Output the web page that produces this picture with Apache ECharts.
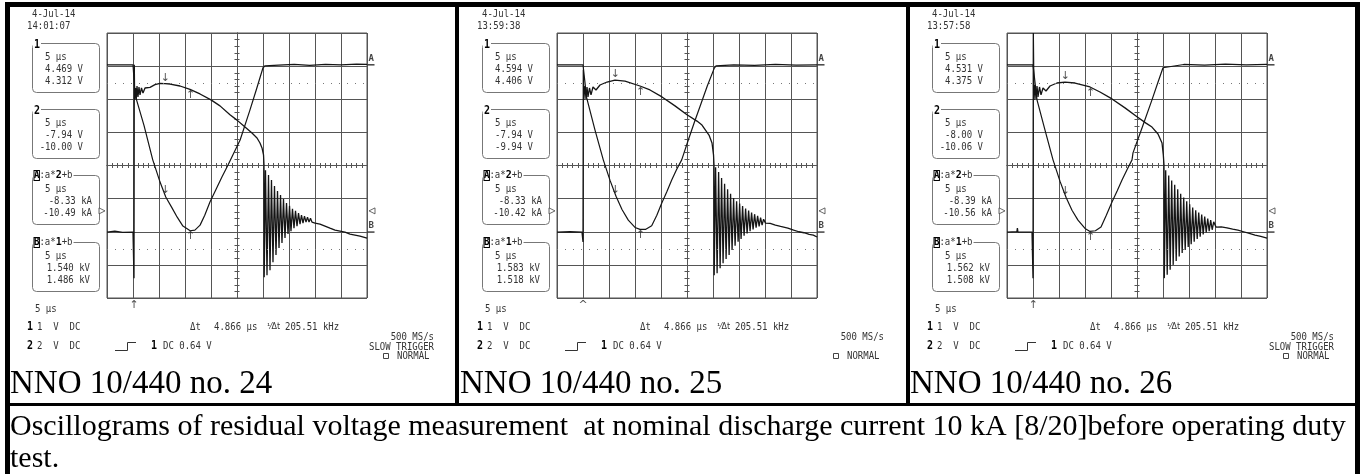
<!DOCTYPE html>
<html><head><meta charset="utf-8">
<script src="https://cdn.jsdelivr.net/npm/echarts@6/dist/echarts.min.js"></script>
<style>html,body{margin:0;padding:0;background:#fff}#c{width:1362px;height:474px}</style>
</head><body><div id="c"></div>
<script>
// ---------------- data ----------------
const PANEL_TITLES = ['NNO 10/440 no. 24', 'NNO 10/440 no. 25', 'NNO 10/440 no. 26'];
const CAPTION_LINES = ['Oscillograms of residual voltage measurement  at nominal discharge current 10 kA [8/20]before operating duty', 'test.'];
const DATES = ['4-Jul-14', '4-Jul-14', '4-Jul-14'];
const CLOCKS = ['14:01:07', '13:59:38', '13:57:58'];
const CH1_CURSOR = [['4.469 V', '4.312 V'], ['4.594 V', '4.406 V'], ['4.531 V', '4.375 V']];
const CH2_CURSOR = [['-7.94 V', '-10.00 V'], ['-7.94 V', '-9.94 V'], ['-8.00 V', '-10.06 V']];
const MATH_A_CURSOR = [['-8.33 kA', '-10.49 kA'], ['-8.33 kA', '-10.42 kA'], ['-8.39 kA', '-10.56 kA']];
const MATH_B_CURSOR = [['1.540 kV', '1.486 kV'], ['1.583 kV', '1.518 kV'], ['1.562 kV', '1.508 kV']];
const TIMEBASE = '5 µs';
const DELTA_T = '4.866 µs';
const INV_DELTA_T = '205.51 kHz';
const SAMPLE_RATE = '500 MS/s';
const SLOW_TRIGGER = [true, false, true];
const TRIG_ARROW = ['↑', '^', '↑'];
// time in µs (5 µs/div), vertical in divisions (-4..4)
const CURSOR_T = [11.2, 16.066];
const H_CURSOR = [2.49, -2.52];
const GROUND_A = 3.04, GROUND_B = -2.01, TRIG_LEVEL = -1.37;
const TRIGGER_T = [5.19, 5.0, 5.06];
const V_AT_CURSOR = [[2.47, 2.30], [2.58, 2.40], [2.52, 2.37]];
const I_AT_CURSOR = [[-0.93, -1.96], [-0.93, -1.93], [-0.96, -1.99]];

const current24 = [[0,3.04],[5.0,3.04],[5.2,3.01],[5.4,2.13],[7.1,1.22],[8.8,0.17],[10.2,-0.50],[11.3,-0.95],[12.5,-1.28],[13.5,-1.56],[14.6,-1.83],[16.0,-1.97],[16.9,-1.95],[17.9,-1.80],[18.8,-1.50],[19.8,-1.10],[21.0,-0.71],[22.1,-0.35],[23.3,0.02],[24.2,0.32],[25.6,0.77],[27.5,1.68],[28.7,2.28],[30.0,2.95],[30.4,3.01],[33,3.03],[36,3.05],[39,3.02],[42,3.05],[45,3.04],[48,3.06],[50,3.05]];
const voltage24 = [[0,-2.01],[1.5,-1.98],[3,-2.02],[5.0,-2.01],[5.19,-3.40],[5.25,3.04],[5.31,1.98],[5.48,2.34],[5.63,2.01],[5.77,2.40],[5.96,2.07],[6.15,2.37],[6.35,2.13],[6.63,2.34],[6.92,2.19],[7.31,2.34],[7.69,2.28],[8.27,2.36],[9.23,2.44],[10.19,2.48],[11.15,2.47],[12.12,2.46],[14.04,2.40],[15.96,2.30],[17.88,2.16],[20.0,1.98],[21.73,1.80],[23.65,1.53],[25.0,1.37],[26.54,1.16],[27.88,0.98],[28.85,0.83],[29.42,0.68],[29.81,0.53],[30.1,0.32],[30.19,0.02],
  [30.23,-3.37],[30.48,-0.14],[30.77,-3.31],[31.06,-0.29],[31.35,-3.16],[31.63,-0.44],[31.92,-2.92],[32.21,-0.62],[32.5,-2.7],[32.79,-0.77],[33.08,-2.49],[33.37,-0.89],[33.65,-2.34],[33.94,-1.01],[34.23,-2.19],[34.52,-1.13],[34.81,-2.07],[35.1,-1.22],[35.38,-1.98],[35.67,-1.31],[35.96,-1.89],[36.25,-1.37],[36.54,-1.83],[36.83,-1.44],[37.12,-1.77],[37.4,-1.5],[37.69,-1.74],[37.98,-1.53],[38.27,-1.71],[38.56,-1.56],[38.85,-1.71],[39.13,-1.59],[39.42,-1.71],[40.0,-1.74],[40.96,-1.77],[41.92,-1.83],[42.88,-1.89],[43.85,-1.95],[44.81,-1.98],[45.77,-2.01],[46.73,-2.07],[47.69,-2.1],[48.65,-2.13],[50,-2.19]];

const current25 = [[0,3.04],[5.0,3.04],[5.19,2.98],[5.71,2.04],[7.31,1.07],[8.9,0.17],[10.2,-0.45],[11.35,-0.93],[12.5,-1.33],[13.71,-1.65],[15.0,-1.87],[15.96,-1.93],[17.0,-1.93],[18.21,-1.82],[19.2,-1.5],[20.13,-1.14],[21.1,-0.8],[22.06,-0.44],[23.0,-0.12],[23.98,0.17],[25.25,0.77],[26.4,1.3],[27.5,1.78],[28.9,2.4],[30.25,2.94],[30.58,3.01],[34,3.04],[38,3.02],[42,3.05],[46,3.03],[50,3.04]];
const voltage25 = [[0,-2.01],[2.5,-2.0],[4.81,-2.01],[5.0,-2.31],[5.06,2.89],[5.15,1.98],[5.38,2.40],[5.58,2.01],[5.77,2.37],[5.96,2.07],[6.25,2.34],[6.54,2.13],[6.92,2.37],[7.5,2.28],[8.27,2.43],[9.62,2.52],[11.15,2.58],[13.08,2.55],[15.96,2.40],[17.88,2.28],[20.19,2.07],[22.69,1.80],[25.0,1.53],[26.92,1.34],[27.88,1.22],[29.23,0.92],[29.81,0.68],[30.1,0.32],[30.19,0.02],
  [30.23,-3.31],[30.5,-0.05],[30.79,-3.25],[31.08,-0.2],[31.37,-3.1],[31.65,-0.38],[31.94,-2.95],[32.23,-0.55],[32.52,-2.82],[32.81,-0.72],[33.1,-2.7],[33.38,-0.85],[33.67,-2.55],[33.96,-0.98],[34.25,-2.42],[34.54,-1.08],[34.83,-2.3],[35.12,-1.15],[35.4,-2.22],[35.69,-1.22],[35.98,-2.12],[36.27,-1.3],[36.56,-2.05],[36.85,-1.36],[37.13,-1.98],[37.42,-1.42],[37.71,-1.93],[38.0,-1.47],[38.29,-1.88],[38.58,-1.52],[38.87,-1.84],[39.15,-1.57],[39.44,-1.8],[39.73,-1.62],[40.1,-1.74],[41.0,-1.75],[42.0,-1.8],[43.0,-1.84],[44.4,-1.89],[45.5,-1.95],[46.5,-2.0],[47.5,-2.03],[48.5,-2.08],[49.3,-2.1],[50,-2.16]];

const current26 = [[0,3.04],[5.0,3.04],[5.19,2.98],[5.77,1.98],[7.31,1.07],[8.85,0.17],[10.2,-0.48],[11.35,-0.96],[12.5,-1.35],[13.65,-1.65],[15.0,-1.9],[15.96,-1.99],[17.0,-1.97],[18.08,-1.86],[19.1,-1.5],[20.19,-1.1],[21.2,-0.76],[22.12,-0.44],[23.1,-0.12],[24.04,0.17],[24.23,0.38],[25.96,1.13],[27.88,1.98],[29.0,2.5],[30.0,2.95],[30.38,3.01],[34,3.05],[38,3.03],[42,3.06],[46,3.04],[50,3.05]];
const voltage26 = [[0,-2.01],[1.9,-2.0],[2.0,-1.89],[2.1,-2.01],[4.81,-2.01],[5.0,-3.40],[5.06,4.0],[5.19,1.98],[5.38,2.43],[5.58,2.01],[5.77,2.40],[5.96,2.07],[6.25,2.37],[6.54,2.13],[6.92,2.34],[7.5,2.25],[8.27,2.40],[9.62,2.49],[11.15,2.52],[13.08,2.49],[15.96,2.37],[17.88,2.22],[20.19,2.01],[22.69,1.74],[25.0,1.47],[26.73,1.28],[27.88,1.16],[29.04,0.95],[29.81,0.68],[30.06,0.32],[30.19,0.02],
  [30.25,-3.4],[30.52,-0.14],[30.81,-3.3],[31.1,-0.3],[31.38,-3.15],[31.67,-0.45],[31.96,-3.0],[32.25,-0.58],[32.54,-2.88],[32.83,-0.72],[33.12,-2.75],[33.4,-0.85],[33.69,-2.64],[33.98,-0.97],[34.27,-2.55],[34.56,-1.08],[34.85,-2.46],[35.13,-1.17],[35.42,-2.38],[35.71,-1.27],[36.0,-2.3],[36.29,-1.35],[36.58,-2.22],[36.87,-1.42],[37.15,-2.15],[37.44,-1.48],[37.73,-2.08],[38.02,-1.54],[38.31,-2.02],[38.6,-1.6],[38.88,-1.98],[39.17,-1.65],[39.46,-1.94],[39.75,-1.7],[40.2,-1.86],[41.2,-1.85],[42.3,-1.88],[43.4,-1.92],[44.4,-1.95],[45.5,-2.0],[46.6,-2.05],[47.7,-2.1],[48.8,-2.14],[50,-2.19]];

const CURRENTS = [current24, current25, current26];
const VOLTAGES = [voltage24, voltage25, voltage26];

// ---------------- layout / style ----------------
const GX = [107, 557, 1007];
const GRID_TOP = 33, GRID_W = 260, GRID_H = 265;
const GRIDC = '#555';
const TRACE = '#151515';
const TXT = '#333';
const MONO = '"DejaVu Sans Mono", "Liberation Mono", monospace';
const SERIF = '"Liberation Serif", "Times New Roman", serif';

function txt(x, y, text, o) {
  o = o || {};
  const st = {text: text, font: (o.font || ('9px ' + MONO)), fill: o.fill || TXT,
    align: o.align || 'left', verticalAlign: o.va || 'middle'};
  if (o.bg) { st.backgroundColor = o.bg; st.padding = o.pad || [0, 1]; }
  if (o.rich) st.rich = o.rich;
  const el = {type: 'text', x: x, y: y, silent: true, z: 10, style: st};
  if (o.sy) el.scaleY = o.sy;
  return el;
}
function stxt(x, y, text, o) { o = o || {}; if (o.sy == null) o.sy = 1.18; return txt(x, y, text, o); }
function rect(x, y, w, h, style, r) {
  return {type: 'rect', silent: true, z: 5, shape: {x: x, y: y, width: w, height: h, r: r || 0}, style: style};
}

const grids = [], xAxes = [], yAxes = [], series = [], graphics = [];
const tickStyle = {show: true, length: 2.5, lineStyle: {color: GRIDC, width: 1}};
const minorStyle = {show: true, splitNumber: 5, length: 2.5, lineStyle: {color: GRIDC, width: 1}};

for (let i = 0; i < 3; i++) {
  const gx = GX[i];
  grids.push({left: gx, top: GRID_TOP, width: GRID_W, height: GRID_H, show: true,
    borderColor: GRIDC, borderWidth: 1, backgroundColor: 'transparent', containLabel: false, outerBoundsMode: 'none'});
  const xb = {gridIndex: i, type: 'value', min: 0, max: 50, interval: 5, axisLabel: {show: false}, name: ''};
  xAxes.push(Object.assign({}, xb, {position: 'bottom', axisLine: {show: true, onZero: true, lineStyle: {color: GRIDC, width: 1}},
    axisTick: tickStyle, minorTick: minorStyle, splitLine: {show: true, lineStyle: {color: GRIDC, width: 1}}}));
  xAxes.push(Object.assign({}, xb, {position: 'top', axisLine: {show: true, onZero: true, lineStyle: {color: GRIDC, width: 1}},
    axisTick: tickStyle, minorTick: minorStyle, splitLine: {show: false}}));
  const yb = {gridIndex: i, type: 'value', min: -4, max: 4, interval: 1, axisLabel: {show: false}, name: ''};
  yAxes.push(Object.assign({}, yb, {position: 'left', offset: -GRID_W / 2, axisLine: {show: true, onZero: false, lineStyle: {color: GRIDC, width: 1}},
    axisTick: tickStyle, minorTick: minorStyle, splitLine: {show: true, lineStyle: {color: GRIDC, width: 1}}}));
  yAxes.push(Object.assign({}, yb, {position: 'right', offset: -GRID_W / 2, axisLine: {show: true, onZero: false, lineStyle: {color: GRIDC, width: 1}},
    axisTick: tickStyle, minorTick: minorStyle, splitLine: {show: false}}));

  const xi = 2 * i, yi = 2 * i;
  const lineBase = {type: 'line', xAxisIndex: xi, yAxisIndex: yi, showSymbol: false, symbol: 'none',
    silent: true, animation: false, z: 4};
  series.push(Object.assign({}, lineBase, {data: CURRENTS[i], lineStyle: {color: TRACE, width: 1.2},
    markLine: {symbol: 'none', silent: true, animation: false, label: {show: false},
      lineStyle: {type: [1, 7], color: '#777', width: 1}, data: H_CURSOR.map(v => ({yAxis: v}))}}));
  series.push(Object.assign({}, lineBase, {data: VOLTAGES[i], lineStyle: {color: TRACE, width: 1.3}}));

  // cursor arrows
  const arrowLabel = {show: true, fontSize: 11, fontFamily: 'DejaVu Sans', color: '#222', distance: 0};
  series.push({type: 'scatter', xAxisIndex: xi, yAxisIndex: yi, symbolSize: 1, clip: false, silent: true, animation: false, z: 6,
    itemStyle: {color: 'rgba(0,0,0,0)'}, label: arrowLabel,
    data: [
      {value: [CURSOR_T[0], V_AT_CURSOR[i][0]], label: {position: 'top', formatter: '↓'}},
      {value: [CURSOR_T[1], V_AT_CURSOR[i][1]], label: {position: 'bottom', formatter: '↑'}},
      {value: [CURSOR_T[0], I_AT_CURSOR[i][0]], label: {position: 'top', formatter: '↓'}},
      {value: [CURSOR_T[1], I_AT_CURSOR[i][1]], label: {position: 'bottom', formatter: '↑'}},
      {value: [TRIGGER_T[i], -4], label: {position: 'bottom', formatter: TRIG_ARROW[i], distance: 1}}
    ]});
  // ground markers A / B on the right edge
  series.push({type: 'scatter', xAxisIndex: xi, yAxisIndex: yi, clip: false, silent: true, animation: false, z: 6,
    symbol: 'rect', symbolSize: [7, 1.5], symbolOffset: [4, 0], itemStyle: {color: '#111'},
    label: {show: true, position: [1, -10], fontSize: 9, fontWeight: 'bold', fontFamily: MONO, color: '#111',
      formatter: p => p.data[2]},
    data: [[50, GROUND_A, 'A'], [50, GROUND_B, 'B']]});
  // trigger level triangles
  series.push({type: 'scatter', xAxisIndex: xi, yAxisIndex: yi, clip: false, silent: true, animation: false, z: 6,
    symbol: 'triangle', symbolSize: 6, itemStyle: {color: '#fff', borderColor: '#444', borderWidth: 1},
    data: [{value: [0, TRIG_LEVEL], symbolRotate: -90, symbolOffset: [-5, 0]},
           {value: [50, TRIG_LEVEL], symbolRotate: 90, symbolOffset: [5, 0]}]});

  // ---------- scope screen text ----------
  graphics.push(stxt(gx - 75, 14, DATES[i]));
  graphics.push(stxt(gx - 80, 26, CLOCKS[i]));
  const boxes = [
    {y: 43, head: '1', vals: CH1_CURSOR[i], right: gx - 24},
    {y: 109, head: '2', vals: CH2_CURSOR[i], right: gx - 24},
    {y: 175, head: 'A', expr: '2', vals: MATH_A_CURSOR[i], right: gx - 15},
    {y: 242, head: 'B', expr: '1', vals: MATH_B_CURSOR[i], right: gx - 17}
  ];
  boxes.forEach(b => {
    graphics.push(rect(gx - 75 + 0.5, b.y + 0.5, 67, 49, {fill: '#fff', stroke: '#777', lineWidth: 1}, 4));
    if (b.expr) {
      graphics.push(txt(gx - 74, b.y + 0.5, '{h|' + b.head + '}:a*{b|' + b.expr + '}+b', {bg: '#fff', pad: [0, 1], sy: 1.1,
        rich: {h: {font: 'bold 9px ' + MONO, fill: '#000', borderColor: '#000', borderWidth: 1, padding: [0, 0]},
               b: {font: 'bold 10px ' + MONO, fill: '#000'}}}));
    } else {
      graphics.push(txt(gx - 74, b.y + 2, b.head, {font: 'bold 10px ' + MONO, fill: '#000', bg: '#fff', sy: 1.15}));
    }
    graphics.push(stxt(gx - 62, b.y + 14, TIMEBASE));
    graphics.push(stxt(b.right, b.y + 26, b.vals[0], {align: 'right'}));
    graphics.push(stxt(b.right, b.y + 38, b.vals[1], {align: 'right'}));
  });
  graphics.push(stxt(gx - 72, 309, TIMEBASE));
  // info rows
  graphics.push(stxt(gx - 80, 327, '1', {font: 'bold 10px ' + MONO, fill: '#000'}));
  graphics.push(stxt(gx - 70, 327, '1  V  DC'));
  graphics.push(stxt(gx + 83, 327, 'Δt'));
  graphics.push(stxt(gx + 107, 327, DELTA_T));
  graphics.push(txt(gx + 160, 327, '¹⁄Δt', {font: '8px "DejaVu Sans"'}));
  graphics.push(stxt(gx + 178, 327, INV_DELTA_T));
  graphics.push(stxt(gx + 327, 337, SAMPLE_RATE, {align: 'right'}));
  graphics.push(stxt(gx - 80, 346, '2', {font: 'bold 10px ' + MONO, fill: '#000'}));
  graphics.push(stxt(gx - 70, 346, '2  V  DC'));
  graphics.push({type: 'polyline', silent: true, z: 10, shape: {points: [[gx + 8, 350.5], [gx + 20.5, 350.5], [gx + 20.5, 342.5], [gx + 29, 342.5]]},
    style: {stroke: '#333', fill: null, lineWidth: 1}});
  graphics.push(stxt(gx + 44, 346, '1', {font: 'bold 10px ' + MONO, fill: '#000'}));
  graphics.push(stxt(gx + 56, 346, 'DC 0.64 V'));
  if (SLOW_TRIGGER[i]) graphics.push(stxt(gx + 327, 347, 'SLOW TRIGGER', {align: 'right'}));
  graphics.push(rect(gx + 276.5, 353.5, 5, 5, {fill: null, stroke: '#444', lineWidth: 1}));
  graphics.push(stxt(gx + 290, 356, 'NORMAL'));
  // panel title
  graphics.push(txt(gx - 97, 384, PANEL_TITLES[i], {font: '33px ' + SERIF, fill: '#000'}));
}

// caption
graphics.push(txt(10, 427, CAPTION_LINES[0], {font: '30px ' + SERIF, fill: '#000'}));
graphics.push(txt(10, 459, CAPTION_LINES[1], {font: '30px ' + SERIF, fill: '#000'}));
// table frame
const K = {fill: '#000'};
graphics.push(rect(5, 2, 1355, 5, K));
graphics.push(rect(5, 2, 5, 472, K));
graphics.push(rect(1355, 2, 5, 472, K));
graphics.push(rect(455, 2, 4, 404, K));
graphics.push(rect(906, 2, 4, 404, K));
graphics.push(rect(5, 403, 1355, 3, K));

const chart = echarts.init(document.getElementById('c'), null, {renderer: 'canvas', width: 1362, height: 474});
chart.setOption({
  backgroundColor: '#fff',
  animation: false,
  grid: grids, xAxis: xAxes, yAxis: yAxes, series: series,
  graphic: {elements: graphics}
});
</script></body></html>
